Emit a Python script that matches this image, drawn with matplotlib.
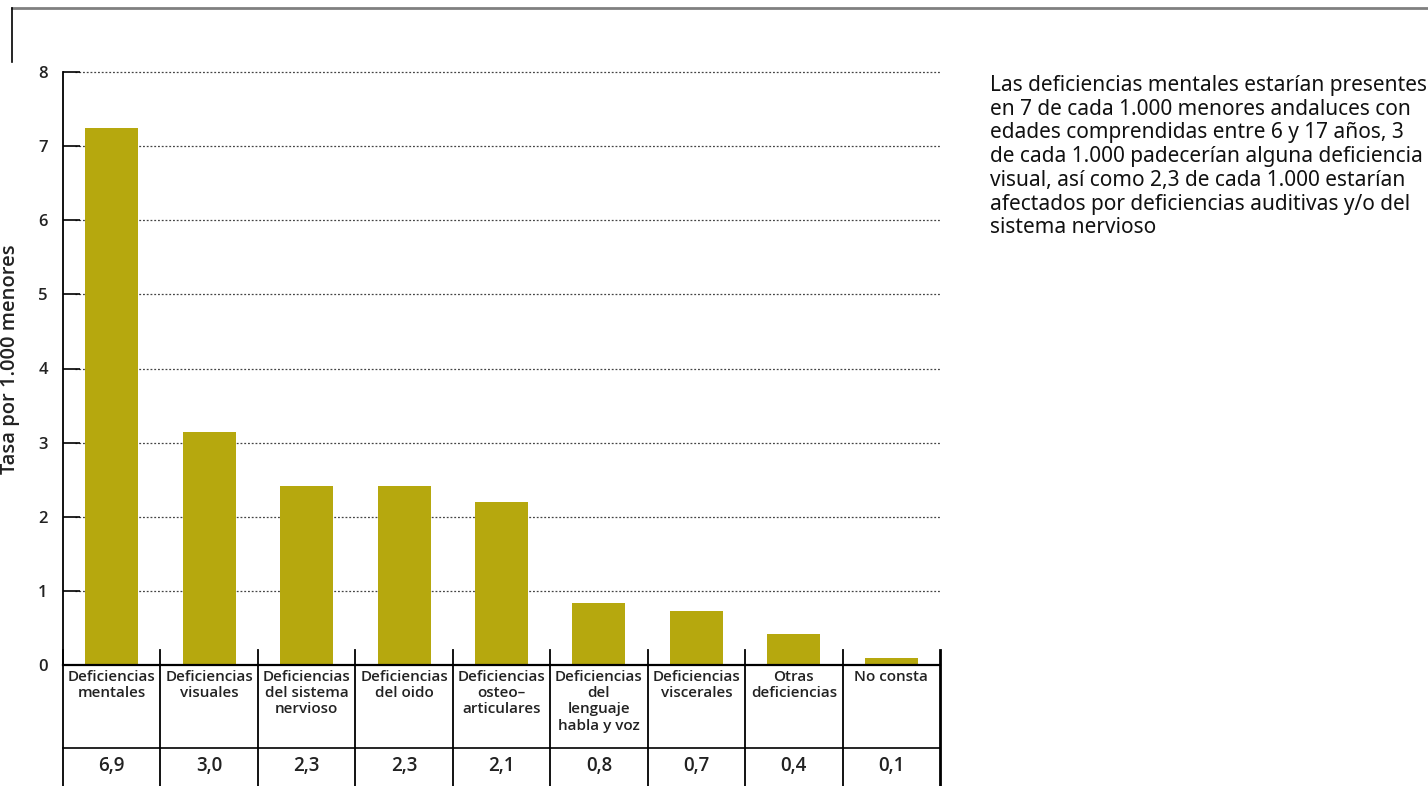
#!/usr/bin/env python3
"""
Tasa de deficiencias por 1.000 menores (6-17 años), Andalucía
"""
import matplotlib
matplotlib.use('Agg')
import matplotlib.pyplot as plt
import matplotlib.transforms as mtransforms
from matplotlib.lines import Line2D

# categories and values
categories = ['Deficiencias\nmentales', 'Deficiencias\nvisuales',
              'Deficiencias\ndel sistema\nnervioso', 'Deficiencias\ndel oido',
              'Deficiencias\nosteo–\narticulares', 'Deficiencias\ndel\nlenguaje\nhabla y voz',
              'Deficiencias\nviscerales', 'Otras\ndeficiencias', 'No consta']
# bar heights as drawn in the picture
bar_heights = [7.25, 3.15, 2.41, 2.41, 2.2, 0.84, 0.73, 0.42, 0.09]
# values printed in the table row
table_labels = ['6,9', '3,0', '2,3', '2,3', '2,1', '0,8', '0,7', '0,4', '0,1']
yticks = [0, 1, 2, 3, 4, 5, 6, 7, 8]

note = ("Las deficiencias mentales estarían presentes\n"
        "en 7 de cada 1.000 menores andaluces con\n"
        "edades comprendidas entre 6 y 17 años, 3\n"
        "de cada 1.000 padecerían alguna deficiencia\n"
        "visual, así como 2,3 de cada 1.000 estarían\n"
        "afectados por deficiencias auditivas y/o del\n"
        "sistema nervioso")

BAR_COLOR = '#b6a80e'
TXT = '#222222'
BOLD_FONT = ['Open Sans', 'DejaVu Sans']
WEIGHT = 'semibold'
plt.rcParams['font.family'] = ['Noto Sans', 'DejaVu Sans']

fig = plt.figure(figsize=(14.28, 7.86), dpi=100)
W, H = 1428, 786


def fx(px):
    return px / W


def fy(py):
    return 1 - py / H


# frame decoration at top-left
fig.add_artist(Line2D([fx(12), 1], [fy(8), fy(8)], color='#808080', lw=2))
fig.add_artist(Line2D([fx(12), fx(12)], [fy(8), fy(62)], color='black', lw=1.2))

ax = fig.add_axes([fx(63), fy(665), fx(940) - fx(63), fy(72) - fy(665)])
n = len(categories)
x = list(range(n))
ax.bar(x, bar_heights, width=0.545, color=BAR_COLOR, zorder=2)
ax.set_xlim(-0.5, n - 0.5)
ax.set_ylim(0, 8)

for s in ['top', 'right']:
    ax.spines[s].set_visible(False)
ax.spines['left'].set_linewidth(1.3)
ax.spines['bottom'].set_linewidth(1.6)

ax.set_yticks(yticks)
ax.set_yticklabels([str(v) for v in yticks], fontsize=12, fontweight=WEIGHT,
                   family=BOLD_FONT, color=TXT)
ax.tick_params(axis='y', direction='in', length=12, width=1.2, pad=11)
ax.set_xticks([])

# dotted grid lines starting after the tick
for v in yticks[1:]:
    ax.plot([-0.5 + 12 / 97.4, n - 0.5], [v, v], color='#444444', lw=0.9,
            linestyle=(0, (1.5, 1.5)), zorder=1, clip_on=False)

ax.set_ylabel('Tasa por 1.000 menores', fontsize=14.5, fontweight=WEIGHT,
              family=BOLD_FONT, color=TXT)
ax.yaxis.set_label_coords((20 - 63) / 877, (665 - 359) / 593)

# table below the axis
trans = mtransforms.blended_transform_factory(ax.transData, ax.transAxes)
ax_h = 665 - 72
y_top_tick = (665 - 650) / ax_h
y_row = -(748 - 665) / ax_h
y_bottom = -(786 - 665) / ax_h - 0.01
for i in range(n + 1):
    ax.add_line(Line2D([i - 0.5, i - 0.5], [y_top_tick, y_bottom], transform=trans,
                       color='black', lw=1.3 if i < n else 2, clip_on=False))
ax.add_line(Line2D([-0.5, n - 0.5], [y_row, y_row], transform=trans,
                   color='black', lw=1.2, clip_on=False))

for i, (cat, lab) in enumerate(zip(categories, table_labels)):
    ax.text(i, -(670 - 665) / ax_h, cat, transform=trans, ha='center', va='top',
            fontsize=11, fontweight=WEIGHT, family=BOLD_FONT,
            linespacing=1.2, color=TXT)
    ax.text(i, -(766 - 665) / ax_h, lab, transform=trans, ha='center', va='center',
            fontsize=13.5, fontweight=WEIGHT, family=BOLD_FONT, color=TXT)

fig.text(fx(990), fy(75), note, ha='left', va='top', fontsize=15,
         linespacing=1.17, color='#111111')

fig.savefig('out.png', dpi=100)
